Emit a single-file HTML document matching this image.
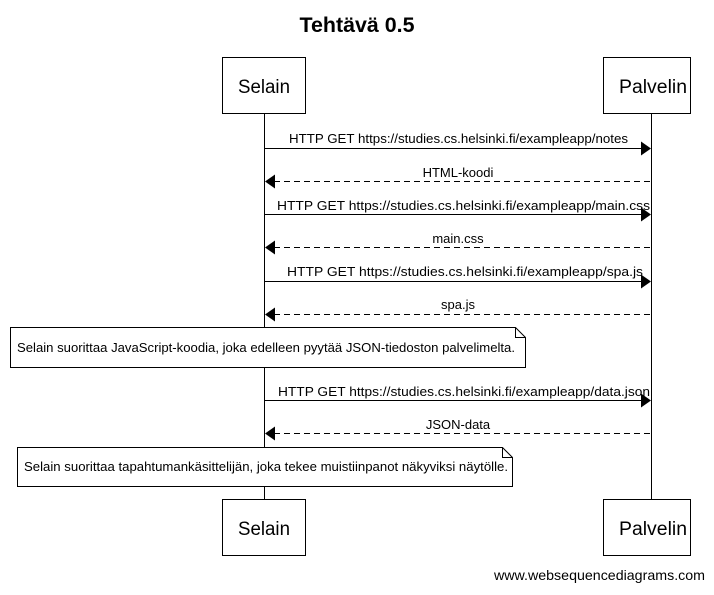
<!DOCTYPE html>
<html><head><meta charset="utf-8"><style>html,body{margin:0;padding:0;background:#fff}</style></head><body>
<svg width="714" height="590" xmlns="http://www.w3.org/2000/svg" font-family="Liberation Sans, Arial, sans-serif">
<rect width="714" height="590" fill="#fff"/>
<text x="357" y="32" font-size="21" font-weight="bold" text-anchor="middle" textLength="115" lengthAdjust="spacingAndGlyphs">Tehtävä 0.5</text>
<g stroke="#000" stroke-width="1" fill="#fff">
<line x1="264.5" y1="113" x2="264.5" y2="499"/>
<line x1="651.5" y1="113" x2="651.5" y2="499"/>
<rect x="222.5" y="57.5" width="83" height="56"/>
<rect x="603.5" y="57.5" width="87" height="56"/>
<rect x="222.5" y="499.5" width="83" height="56"/>
<rect x="603.5" y="499.5" width="87" height="56"/>
</g>
<g font-size="19" text-anchor="middle">
<text x="264" y="93" textLength="52" lengthAdjust="spacingAndGlyphs">Selain</text><text x="653" y="93" textLength="68" lengthAdjust="spacingAndGlyphs">Palvelin</text>
<text x="264" y="535" textLength="52" lengthAdjust="spacingAndGlyphs">Selain</text><text x="653" y="535" textLength="68" lengthAdjust="spacingAndGlyphs">Palvelin</text>
</g>
<g stroke="#000" stroke-width="1">
<line x1="264" y1="148.5" x2="642" y2="148.5"/>
<line x1="274" y1="181.5" x2="651" y2="181.5" stroke-dasharray="6,4"/>
<line x1="264" y1="214.5" x2="642" y2="214.5"/>
<line x1="274" y1="247.5" x2="651" y2="247.5" stroke-dasharray="6,4"/>
<line x1="264" y1="281.5" x2="642" y2="281.5"/>
<line x1="274" y1="314.5" x2="651" y2="314.5" stroke-dasharray="6,4"/>
<line x1="264" y1="400.5" x2="642" y2="400.5"/>
<line x1="274" y1="433.5" x2="651" y2="433.5" stroke-dasharray="6,4"/>
</g>
<g fill="#000">
<polygon points="651,148.5 641,141.5 641,155.5"/>
<polygon points="265,181.5 275,174.5 275,188.5"/>
<polygon points="651,214.5 641,207.5 641,221.5"/>
<polygon points="265,247.5 275,240.5 275,254.5"/>
<polygon points="651,281.5 641,274.5 641,288.5"/>
<polygon points="265,314.5 275,307.5 275,321.5"/>
<polygon points="651,400.5 641,393.5 641,407.5"/>
<polygon points="265,433.5 275,426.5 275,440.5"/>
</g>
<g font-size="13" text-anchor="middle">
<text x="458.5" y="143" textLength="339" lengthAdjust="spacingAndGlyphs">HTTP GET https://studies.cs.helsinki.fi/exampleapp/notes</text>
<text x="458" y="177">HTML-koodi</text>
<text x="463.5" y="210" textLength="373" lengthAdjust="spacingAndGlyphs">HTTP GET https://studies.cs.helsinki.fi/exampleapp/main.css</text>
<text x="458" y="243">main.css</text>
<text x="465" y="276" textLength="356" lengthAdjust="spacingAndGlyphs">HTTP GET https://studies.cs.helsinki.fi/exampleapp/spa.js</text>
<text x="458" y="309">spa.js</text>
<text x="464" y="396" textLength="372" lengthAdjust="spacingAndGlyphs">HTTP GET https://studies.cs.helsinki.fi/exampleapp/data.json</text>
<text x="458" y="429">JSON-data</text>
</g>
<g stroke="#000" stroke-width="1" fill="#fff">
<path d="M10.5 327.5 H515.5 L525.5 337.5 V367.5 H10.5 Z"/>
<path d="M515.5 327.5 V337.5 H525.5" fill="none"/>
<path d="M17.5 447.5 H502.5 L512.5 457.5 V486.5 H17.5 Z"/>
<path d="M502.5 447.5 V457.5 H512.5" fill="none"/>
</g>
<g font-size="13">
<text x="17" y="352" textLength="498" lengthAdjust="spacingAndGlyphs">Selain suorittaa JavaScript-koodia, joka edelleen pyytää JSON-tiedoston palvelimelta.</text>
<text x="24" y="471" textLength="484" lengthAdjust="spacingAndGlyphs">Selain suorittaa tapahtumankäsittelijän, joka tekee muistiinpanot näkyviksi näytölle.</text>
</g>
<text x="705" y="580" font-size="14" text-anchor="end" textLength="211" lengthAdjust="spacingAndGlyphs">www.websequencediagrams.com</text>
</svg>
</body></html>
